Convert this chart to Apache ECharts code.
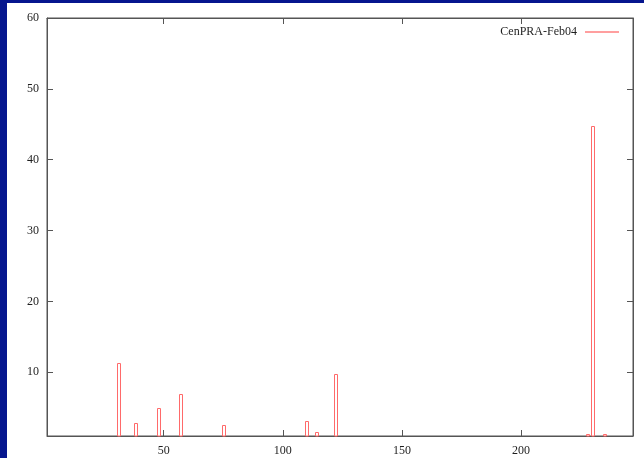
<!DOCTYPE html>
<html>
<head>
<meta charset="utf-8">
<script src="https://cdn.jsdelivr.net/npm/echarts@6/dist/echarts.min.js"></script>
<style>
  html, body { margin: 0; padding: 0; background: #ffffff; }
  #chart { width: 644px; height: 458px; }
</style>
</head>
<body>
<div id="chart"></div>
<script>
// Event counts per channel, CenPRA run of February 2004
const seriesName = 'CenPRA-Feb04';
const channels = [31, 38, 48, 57, 75, 110, 114, 122, 228, 230, 235];
const counts = [11.3, 2.9, 5.0, 6.9, 2.5, 3.1, 1.6, 9.7, 1.3, 44.7, 1.3];
const xTicks = [50, 100, 150, 200];
const yTicks = [10, 20, 30, 40, 50, 60];

const axisColor = '#555555';
const boxColor = '#ff6a6a';
const labelFont = { color: '#1e1e1e', fontFamily: 'Liberation Serif', fontSize: 12 };

const chart = echarts.init(document.getElementById('chart'), null, { renderer: 'canvas' });

const points = channels.map((c, i) => [c, counts[i]]);

// Outlined boxes, one channel wide, rising from the bottom of the y range
function renderBox(params, api) {
  const x = api.value(0);
  const v = api.value(1);
  const top = api.coord([x, v]);
  const base = api.coord([x, 0]);
  const left = Math.round(top[0] - 1.5) + 0.5;
  const yTop = Math.round(top[1]) + 0.5;
  const shape = echarts.graphic.clipRectByRect(
    { x: left, y: yTop, width: 3, height: base[1] - yTop },
    { x: params.coordSys.x, y: params.coordSys.y, width: params.coordSys.width, height: params.coordSys.height }
  );
  return shape && {
    type: 'rect',
    shape: shape,
    style: { fill: '#ffffff', stroke: boxColor, lineWidth: 1 }
  };
}

chart.setOption({
  backgroundColor: '#ffffff',
  animation: false,
  graphic: [
    { type: 'rect', left: 0, top: 0, shape: { width: 7, height: 458 }, style: { fill: '#06168e' }, silent: true },
    { type: 'rect', left: 0, top: 0, shape: { width: 644, height: 3 }, style: { fill: '#06168e' }, silent: true }
  ],
  grid: { left: 47, top: 18, right: 11, bottom: 22, show: true, borderColor: axisColor, borderWidth: 1, backgroundColor: 'transparent' },
  legend: {
    right: 20,
    top: 21,
    align: 'right',
    itemWidth: 34,
    itemHeight: 1,
    itemGap: 0,
    data: [{ name: seriesName, icon: 'rect', itemStyle: { color: '#ff4040', borderWidth: 0 } }],
    textStyle: Object.assign({ padding: [0, 3, 0, 0] }, labelFont)
  },
  xAxis: [
    {
      type: 'value', min: 1, max: 247, position: 'bottom',
      axisLine: { show: true, onZero: false, lineStyle: { color: axisColor } },
      axisTick: { show: true, inside: true, length: 6, customValues: xTicks, lineStyle: { color: axisColor } },
      axisLabel: Object.assign({ customValues: xTicks, margin: 9 }, labelFont),
      splitLine: { show: false }
    },
    {
      type: 'value', min: 1, max: 247, position: 'top',
      axisLine: { show: true, onZero: false, lineStyle: { color: axisColor } },
      axisTick: { show: true, inside: true, length: 6, customValues: xTicks, lineStyle: { color: axisColor } },
      axisLabel: { show: false },
      splitLine: { show: false }
    }
  ],
  yAxis: [
    {
      type: 'value', min: 1, max: 60, position: 'left',
      axisLine: { show: true, onZero: false, lineStyle: { color: axisColor } },
      axisTick: { show: true, inside: true, length: 6, customValues: yTicks, lineStyle: { color: axisColor } },
      axisLabel: Object.assign({ customValues: yTicks, margin: 8 }, labelFont),
      splitLine: { show: false }
    },
    {
      type: 'value', min: 1, max: 60, position: 'right',
      axisLine: { show: true, onZero: false, lineStyle: { color: axisColor } },
      axisTick: { show: true, inside: true, length: 6, customValues: yTicks, lineStyle: { color: axisColor } },
      axisLabel: { show: false },
      splitLine: { show: false }
    }
  ],
  series: [
    {
      name: seriesName,
      type: 'custom',
      xAxisIndex: 0,
      yAxisIndex: 0,
      data: points,
      renderItem: renderBox,
      encode: { x: 0, y: 1 },
      itemStyle: { color: '#ff4040' }
    }
  ]
});
</script>
</body>
</html>
